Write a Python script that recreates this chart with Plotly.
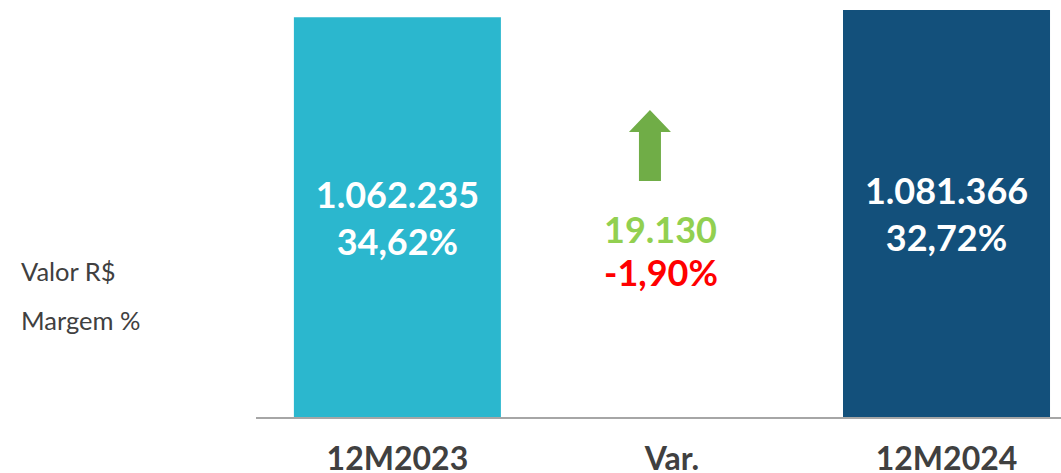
import plotly.graph_objects as go

categories = ["12M2023", "Var.", "12M2024"]
valores = [1062235, None, 1081366]
valor_labels = ["1.062.235", "19.130", "1.081.366"]
margem_labels = ["34,62%", "-1,90%", "32,72%"]
bar_colors = ["#2BB7CE", "rgba(0,0,0,0)", "#13507B"]
row_labels = ["Valor R$", "Margem %"]

FONT = "Lato"

fig = go.Figure()
fig.add_trace(go.Bar(
    x=[0, 1, 2],
    y=valores,
    width=0.754,
    marker=dict(color=bar_colors, line=dict(width=0)),
    text=[f"<b>{v}<br>{m}</b>" if i != 1 else "" for i, (v, m) in enumerate(zip(valor_labels, margem_labels))],
    textposition="inside",
    insidetextanchor="middle",
    textangle=0,
    textfont=dict(family=FONT, size=36, color="white"),
    hoverinfo="skip",
    cliponaxis=False,
))

# Variation text
fig.add_annotation(x=1, y=0, xref="x", yref="paper", yanchor="middle",
                   text=f"<b>{valor_labels[1]}</b>", showarrow=False,
                   font=dict(family=FONT, size=36, color="#92D050"),
                   xshift=-11, yshift=417 - 229)
fig.add_annotation(x=1, y=0, xref="x", yref="paper", yanchor="middle",
                   text=f"<b>{margem_labels[1]}</b>", showarrow=False,
                   font=dict(family=FONT, size=36, color="#FF0000"),
                   xshift=-11, yshift=417 - 272)

# Up arrow
fig.add_shape(type="path", xref="x", yref="paper",
              xsizemode="pixel", ysizemode="pixel", xanchor=1, yanchor=0,
              path="M -33 236 L -33 285 L -43 285 L -22 307 L -1 285 L -11 285 L -11 236 Z",
              fillcolor="#70AD47", line=dict(width=0))

# Row labels
for lbl, py in zip(row_labels, [271, 320]):
    fig.add_annotation(x=(19 - 256) / 805, y=(417 - py) / 417, xref="paper", yref="paper",
                       xanchor="left", yanchor="middle", text=lbl, showarrow=False,
                       font=dict(family=FONT, size=25.5, color="#404040"))

fig.update_layout(
    width=1061, height=473,
    margin=dict(l=256, r=0, t=0, b=56, autoexpand=False),
    paper_bgcolor="white", plot_bgcolor="white",
    showlegend=False,
    xaxis=dict(
        range=[-0.515, 2.417],
        tickvals=[0, 1, 2],
        ticktext=[f"<b>{c}</b>" for c in categories],
        tickfont=dict(family=FONT, size=32, color="#404040"),
        showgrid=False, zeroline=False,
        showline=True, linecolor="#A6A6A6", linewidth=2,
        ticks="outside", ticklen=13, tickcolor="rgba(0,0,0,0)",
        automargin=False,
        fixedrange=True,
    ),
    yaxis=dict(range=[0, 1108000], visible=False, fixedrange=True, automargin=False),
)

fig.write_html("out.html", config={"displayModeBar": False},
               post_script="document.body.style.margin='0';document.body.style.overflow='hidden';")
